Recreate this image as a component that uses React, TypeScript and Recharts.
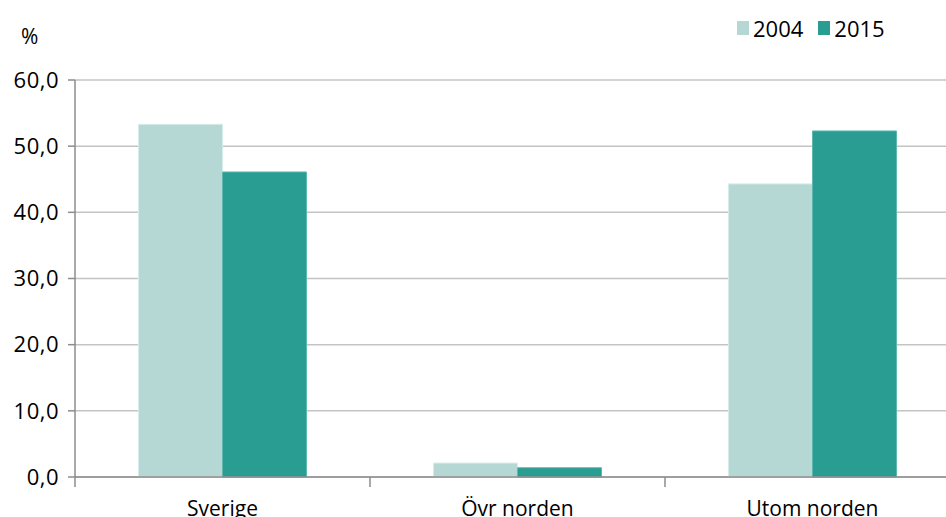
import { BarChart, Bar, XAxis, YAxis, CartesianGrid } from 'recharts';

const categories = ['Sverige', 'Övr norden', 'Utom norden'];
const values2004 = [53.3, 2.1, 44.3];
const values2015 = [46.1, 1.4, 52.3];
const yTicks = [0, 10, 20, 30, 40, 50, 60];
const seriesNames = ['2004', '2015'];
const seriesColors = ['#b5d8d5', '#2a9d93'];

const data = categories.map((name, i) => ({ name, y2004: values2004[i], y2015: values2015[i] }));

const font = '"Open Sans", sans-serif';
const axisGrey = '#8c8c8c';
const fmt = (v: number) => v.toFixed(1).replace('.', ',');

function CategoryTick(props: any) {
  const { x, y, payload, index } = props;
  const half = payload?.offset ?? 0;
  const axisY = y - 24;
  return (
    <g>
      <line x1={x - half} x2={x - half} y1={axisY} y2={axisY + 10} stroke={axisGrey} strokeWidth={1.5} />
      {index === categories.length - 1 && (
        <line x1={x + half} x2={x + half} y1={axisY} y2={axisY + 10} stroke={axisGrey} strokeWidth={1.5} />
      )}
      <text x={x} y={y} dy="0.71em" textAnchor="middle" fill="#000" fontSize={21} fontFamily={font}>
        {payload.value}
      </text>
    </g>
  );
}

export default function App() {
  return (
    <div style={{ position: 'fixed', left: 0, top: 0, width: 946, height: 517, overflow: 'hidden', background: '#fff' }}>
      <div style={{ position: 'absolute', left: 21, top: 22, fontFamily: font, fontSize: 21 }}>%</div>
      <div
        style={{
          position: 'absolute',
          left: 737,
          top: 13,
          display: 'flex',
          gap: 15,
          fontFamily: font,
          fontSize: 22,
          color: '#000',
          zIndex: 2,
        }}
      >
        {seriesNames.map((s, i) => (
          <div key={s} style={{ display: 'flex', alignItems: 'center', gap: 4 }}>
            <span style={{ width: 12, height: 14, background: seriesColors[i], display: 'inline-block' }} />
            <span>{s}</span>
          </div>
        ))}
      </div>
      <BarChart
        width={968}
        height={517}
        data={data}
        margin={{ top: 80, right: 8, left: 0, bottom: 0 }}
        barCategoryGap={63.5}
        barGap={0}
      >
        <CartesianGrid vertical={false} stroke="#c4c4c4" strokeWidth={1.5} />
        <XAxis
          dataKey="name"
          height={40}
          axisLine={{ stroke: axisGrey, strokeWidth: 1.5 }}
          tickLine={false}
          tickSize={0}
          tickMargin={24}
          tick={<CategoryTick />}
        />
        <YAxis
          width={75}
          domain={[0, 60]}
          ticks={yTicks}
          tickFormatter={fmt}
          axisLine={{ stroke: axisGrey, strokeWidth: 1.5 }}
          tickLine={{ stroke: axisGrey, strokeWidth: 1.5 }}
          tickSize={7}
          tickMargin={9}
          tick={{ fill: '#000', fontSize: 22, fontFamily: font, letterSpacing: 0.5 }}
        />
        <Bar dataKey="y2004" name={seriesNames[0]} fill={seriesColors[0]} stroke="#d6ecea" strokeWidth={1} isAnimationActive={false} />
        <Bar dataKey="y2015" name={seriesNames[1]} fill={seriesColors[1]} stroke="#5fb8b0" strokeWidth={1} isAnimationActive={false} />
      </BarChart>
    </div>
  );
}
